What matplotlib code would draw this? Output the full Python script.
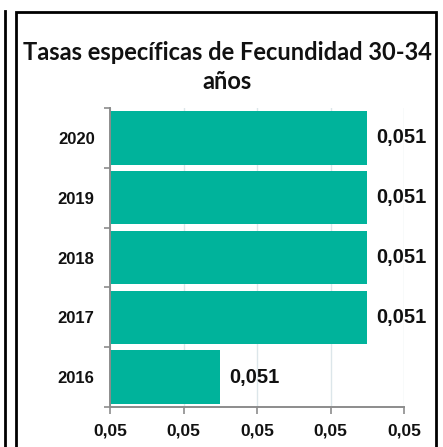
import matplotlib
matplotlib.use('Agg')
import matplotlib.pyplot as plt
from matplotlib.patches import Rectangle
from matplotlib.lines import Line2D
from matplotlib.ticker import FuncFormatter, FixedLocator

# data
years = ['2020', '2019', '2018', '2017', '2016']
rates = [0.05115, 0.05115, 0.05115, 0.05115, 0.05095]
xticks = [0.0508, 0.0509, 0.0510, 0.0511, 0.0512]
title = 'Tasas específicas de Fecundidad 30-34\naños'

teal = '#00B39B'
spine_col = '#8C8C8C'

fig = plt.figure(figsize=(4.43, 4.47), dpi=100)
W, H = 443, 447
ax = fig.add_axes([110 / W, 1 - 407 / H, (404 - 110) / W, (407 - 108) / H])

ypos = list(range(len(years)))
ax.barh(ypos, rates, height=0.89, color=teal, zorder=2)
ax.set_ylim(len(years) - 0.5, -0.5)
ax.set_xlim(xticks[0], xticks[-1])

# labels at bar ends
for y, v in zip(ypos, rates):
    ax.annotate(f'{v:.3f}'.replace('.', ','), (v, y), xytext=(6.5, 0),
                textcoords='offset points', va='center', ha='left',
                fontsize=14.5, fontweight='bold', family='Liberation Sans',
                color='#111111')

ax.xaxis.set_major_locator(FixedLocator(xticks))
ax.xaxis.set_major_formatter(FuncFormatter(lambda x, p: f'{x:.2f}'.replace('.', ',')))
ax.set_yticks(ypos)
ax.set_yticklabels(years)
ax.set_yticks([i - 0.5 for i in range(len(years) + 1)], minor=True)

ax.tick_params(axis='x', length=5, width=1.2, color=spine_col, pad=7,
               labelsize=12.5)
ax.tick_params(axis='y', which='major', length=0, pad=11, labelsize=12)
ax.tick_params(axis='y', which='minor', length=4, width=1.2, color=spine_col)
for lab in ax.get_xticklabels() + ax.get_yticklabels():
    lab.set_fontweight('bold')
    lab.set_family('Liberation Sans')
    lab.set_color('#111111')

ax.grid(axis='x', color='#DCE6EA', linewidth=1, zorder=0)
ax.set_axisbelow(True)
for s in ['top', 'right']:
    ax.spines[s].set_visible(False)
for s in ['left', 'bottom']:
    ax.spines[s].set_color(spine_col)
    ax.spines[s].set_linewidth(1.4)

fig.text(227 / W, 1 - 67 / H, title, ha='center', va='center',
         fontsize=17, fontweight='bold', family='Lato', linespacing=1.35,
         color='#111111')

# chart frame and neighbouring frame edge
fig.add_artist(Rectangle((16 / W, -0.05), (436 - 16) / W, 1.05 - 12 / H,
                         transform=fig.transFigure, fill=False,
                         edgecolor='black', linewidth=2))
fig.add_artist(Line2D([4.5 / W, 4.5 / W], [-0.05, 1 - 11 / H],
                      transform=fig.transFigure, color='black', linewidth=2))

fig.savefig('out.png', dpi=100)
